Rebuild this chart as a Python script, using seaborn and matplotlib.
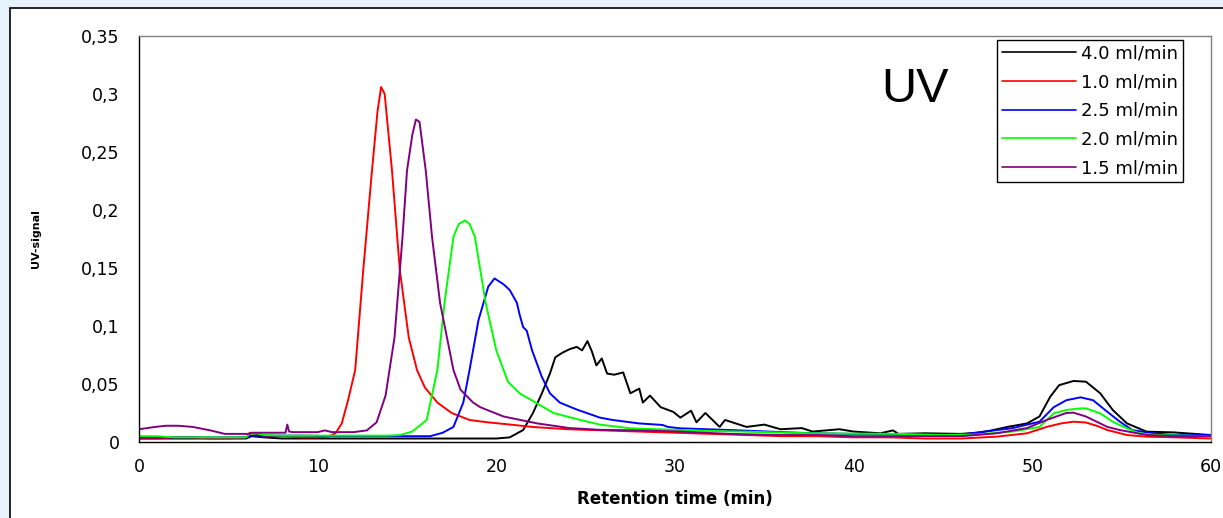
import numpy as np
import pandas as pd
import matplotlib
matplotlib.use("Agg")
import matplotlib.pyplot as plt
from matplotlib.patches import Rectangle
from matplotlib.ticker import FuncFormatter
import seaborn as sns

# ---------------- data ----------------
t_40 = [0, 3, 6, 6.3, 7, 8, 10, 12, 14, 16, 18, 20, 20.75, 21.5, 22.05, 22.55, 23.0, 23.3,
        23.7, 24.1, 24.5, 24.8, 25.1, 25.35, 25.6, 25.9, 26.2, 26.6, 27.1, 27.5, 28.0, 28.2,
        28.6, 29.2, 29.9, 30.3, 30.9, 31.2, 31.7, 32.5, 32.8, 34.0, 35.0, 35.9, 37.1, 37.7,
        39.2, 40.0, 41.5, 42.2, 42.5, 44, 46, 46.9, 47.6, 48.6, 49.7, 50.4, 51.0, 51.5, 52.3,
        53.0, 53.8, 54.5, 55.3, 56.4, 57.9, 60]
uv_40 = [0.003, 0.003, 0.003, 0.005, 0.004, 0.003, 0.003, 0.003, 0.003, 0.003, 0.003, 0.003,
         0.004, 0.0103, 0.025, 0.042, 0.059, 0.073, 0.077, 0.080, 0.082, 0.079, 0.087, 0.078,
         0.066, 0.072, 0.059, 0.058, 0.060, 0.042, 0.046, 0.034, 0.040, 0.030, 0.026, 0.021,
         0.027, 0.017, 0.025, 0.013, 0.019, 0.013, 0.015, 0.011, 0.012, 0.009, 0.011, 0.009,
         0.0075, 0.010, 0.007, 0.0075, 0.007, 0.008, 0.0096, 0.013, 0.016, 0.022, 0.039, 0.049,
         0.0526, 0.052, 0.042, 0.0276, 0.016, 0.0089, 0.0083, 0.006]

t_10 = [0, 1, 2, 3, 4, 5, 6, 6.2, 6.5, 7, 8, 9, 10, 10.6, 11.0, 11.35, 11.7, 12.1, 12.55,
        13.04, 13.35, 13.55, 13.75, 14.16, 14.6, 15.1, 15.56, 16.0, 16.7, 17.5, 18.5, 19.5,
        20.8, 22, 24, 26, 28, 30, 32, 34, 36, 38, 40, 42, 44, 46, 48, 49.7, 50.8, 51.6, 52.3,
        53.0, 53.6, 54.2, 55.3, 56.4, 58, 60]
uv_10 = [0.003, 0.003, 0.004, 0.004, 0.003, 0.003, 0.004, 0.008, 0.007, 0.005, 0.005, 0.004,
         0.004, 0.0046, 0.0075, 0.016, 0.036, 0.062, 0.148, 0.234, 0.285, 0.306, 0.300, 0.234,
         0.148, 0.09, 0.062, 0.047, 0.034, 0.025, 0.019, 0.017, 0.015, 0.013, 0.011, 0.010,
         0.009, 0.008, 0.007, 0.006, 0.005, 0.005, 0.004, 0.004, 0.003, 0.003, 0.0046, 0.0075,
         0.013, 0.016, 0.0175, 0.0168, 0.014, 0.0103, 0.006, 0.0046, 0.004, 0.003]

t_25 = [0, 2, 4, 6, 6.2, 7, 9, 11, 13, 15, 16.3, 17.0, 17.6, 18.15, 18.5, 19.0, 19.55, 19.9,
        20.2, 20.4, 20.75, 21.15, 21.3, 21.5, 21.7, 22.0, 22.55, 23.0, 23.55, 24.5, 25.8, 26.5,
        28, 29.0, 29.3, 29.6, 30.3, 33.1, 34.4, 37.7, 40, 43, 46.3, 48.9, 50.4, 51.2, 51.9,
        52.7, 53.4, 54.2, 54.9, 55.6, 56.7, 58, 60]
uv_25 = [0.004, 0.004, 0.004, 0.004, 0.0055, 0.0055, 0.0055, 0.005, 0.005, 0.005, 0.005,
         0.008, 0.013, 0.034, 0.062, 0.105, 0.134, 0.141, 0.138, 0.136, 0.131, 0.12, 0.11,
         0.099, 0.096, 0.079, 0.056, 0.042, 0.034, 0.028, 0.021, 0.019, 0.016, 0.015, 0.0147,
         0.013, 0.0118, 0.0103, 0.0095, 0.0075, 0.007, 0.0065, 0.0069, 0.012, 0.0175, 0.030,
         0.036, 0.0385, 0.036, 0.026, 0.0175, 0.0103, 0.0075, 0.006, 0.006]

t_20 = [0, 1, 2, 3, 4, 5, 6, 6.2, 6.6, 7, 8, 9, 10, 11, 12, 13, 14, 14.6, 15.3, 16.1, 16.7,
        17.1, 17.6, 17.9, 18.25, 18.5, 18.8, 19.4, 20.0, 20.65, 21.3, 22.2, 23.2, 24.7, 25.8,
        27.5, 30.3, 32, 34, 37.7, 40, 42.4, 45, 47, 48.9, 50.4, 51.2, 51.9, 52.7, 53.0, 53.8,
        54.5, 55.3, 56, 57, 60]
uv_20 = [0.005, 0.005, 0.004, 0.004, 0.004, 0.004, 0.004, 0.007, 0.0075, 0.006, 0.0055,
         0.0055, 0.0055, 0.0055, 0.0055, 0.0055, 0.0055, 0.006, 0.009, 0.019, 0.062, 0.12,
         0.177, 0.188, 0.191, 0.188, 0.177, 0.12, 0.079, 0.052, 0.042, 0.034, 0.025, 0.019,
         0.015, 0.0118, 0.0103, 0.0095, 0.0089, 0.0075, 0.0072, 0.007, 0.006, 0.0065, 0.009,
         0.013, 0.0247, 0.0276, 0.029, 0.029, 0.0247, 0.0175, 0.0118, 0.0075, 0.006, 0.005]

t_15 = [0, 0.9, 1.5, 2.2, 3, 4, 4.8, 6.2, 6.3, 8.2, 8.3, 8.4, 8.6, 10, 10.4, 10.8, 12.0,
        12.75, 13.3, 13.8, 14.3, 14.75, 15.0, 15.3, 15.5, 15.7, 16.05, 16.4, 16.85, 17.6, 18.0,
        18.7, 19.1, 20.4, 22.3, 24.1, 25.8, 28, 30.3, 33, 35.9, 38, 40, 43, 46, 48, 49.7, 50.8,
        51.9, 52.3, 53.0, 54.2, 54.9, 56.4, 58, 60]
uv_15 = [0.011, 0.013, 0.014, 0.014, 0.013, 0.010, 0.007, 0.007, 0.008, 0.008, 0.015, 0.009,
         0.0085, 0.0085, 0.010, 0.0085, 0.0085, 0.010, 0.017, 0.040, 0.09, 0.177, 0.234, 0.265,
         0.278, 0.276, 0.234, 0.177, 0.12, 0.062, 0.045, 0.034, 0.030, 0.022, 0.016, 0.012,
         0.0105, 0.010, 0.009, 0.007, 0.006, 0.006, 0.005, 0.005, 0.005, 0.0075, 0.012, 0.019,
         0.025, 0.0253, 0.022, 0.013, 0.0103, 0.006, 0.005, 0.005]

series_labels = ["4.0 ml/min", "1.0 ml/min", "2.5 ml/min", "2.0 ml/min", "1.5 ml/min"]
series_colors = ["#000000", "#FF0000", "#0000FF", "#00FF00", "#800080"]
series_t = [t_40, t_10, t_25, t_20, t_15]
series_uv = [uv_40, uv_10, uv_25, uv_20, uv_15]

x_ticks = [0, 10, 20, 30, 40, 50, 60]
y_ticks = [0, 0.05, 0.1, 0.15, 0.2, 0.25, 0.3, 0.35]

# ---------------- styling ----------------
sns.set_style("white")
plt.rcParams["font.family"] = ["DejaVu Sans"]
plt.rcParams["text.color"] = "black"
plt.rcParams["axes.labelcolor"] = "black"
plt.rcParams["xtick.color"] = "black"
plt.rcParams["ytick.color"] = "black"

W, H = 1223, 518
fig = plt.figure(figsize=(W / 100, H / 100), dpi=100)
fig.patch.set_facecolor("#E6F3FB")

left, right, top, bottom = 139, 1211, 36, 442
ax = fig.add_axes([left / W, 1 - bottom / H, (right - left) / W, (bottom - top) / H])
ax.set_facecolor("white")
ax.set_zorder(2)

# white chart panel with black border (behind the axes)
panel_ax = fig.add_axes([0, 0, 1, 1], zorder=0)
panel_ax.set_axis_off()
panel_ax.set_xlim(0, W)
panel_ax.set_ylim(H, 0)
panel_ax.add_patch(Rectangle((10, 8), W + 50, H + 50, facecolor="white",
                             edgecolor="black", linewidth=1.2))

for t, uv, lab, col in zip(series_t, series_uv, series_labels, series_colors):
    df = pd.DataFrame({"t": t, "uv": uv})
    sns.lineplot(data=df, x="t", y="uv", color=col, label=lab, ax=ax,
                 linewidth=1.4, estimator=None, sort=False)

ax.set_xlim(0, 60)
ax.set_ylim(0, 0.35)
ax.set_xticks(x_ticks)
ax.set_yticks(y_ticks)
ax.yaxis.set_major_formatter(FuncFormatter(lambda v, p: f"{v:g}".replace(".", ",")))
ax.tick_params(axis="both", which="major", direction="out", width=1,
               color="black", labelsize=12.5, labelcolor="black")
ax.tick_params(axis="x", length=4.5, pad=7)
ax.tick_params(axis="y", length=6, pad=8)

for s in ["left", "bottom"]:
    ax.spines[s].set_color("black")
    ax.spines[s].set_linewidth(1.0)
for s in ["top", "right"]:
    ax.spines[s].set_color("#808080")
    ax.spines[s].set_linewidth(1.0)

ax.set_xlabel("Retention time (min)", fontsize=12, fontweight="bold", labelpad=10,
              color="black")
ax.set_ylabel("UV-signal", fontsize=8, fontweight="bold", labelpad=29, color="black")

ax.text(43.43, 0.2935, "UV", fontsize=35, ha="center", va="baseline", color="black",
        family="Liberation Sans")

leg = ax.legend(loc="upper right", bbox_to_anchor=(1183 / W, 1 - 40 / H),
                bbox_transform=fig.transFigure, borderaxespad=0, fancybox=False,
                framealpha=1, edgecolor="black", fontsize=13, handlelength=4.1,
                handletextpad=0.3, labelspacing=0.59, borderpad=0.25)
leg.get_frame().set_linewidth(1.0)
for txt in leg.get_texts():
    txt.set_color("black")
for line in leg.get_lines():
    line.set_linewidth(1.2)

fig.savefig("out.png", dpi=100, facecolor=fig.get_facecolor())
